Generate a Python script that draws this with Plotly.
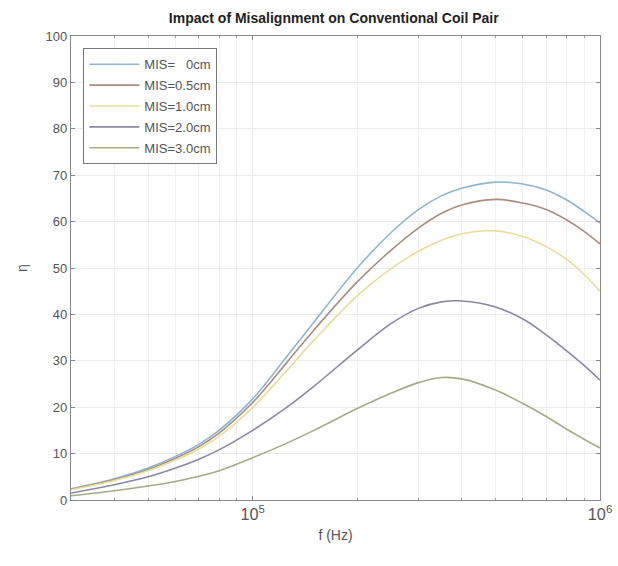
import plotly.graph_objects as go

freq = [3e4, 4e4, 5e4, 6e4, 7e4, 8e4, 1e5, 1.25e5, 1.5e5, 2e5, 2.5e5, 3e5, 3.5e5,
        4e5, 5e5, 6e5, 7e5, 8e5, 9e5, 1e6]
eta_0 = [2.4, 4.6, 6.9, 9.4, 12.0, 15.0, 21.8, 30.8, 38.3, 50.0, 57.6, 62.6, 65.6,
         67.2, 68.5, 68.1, 66.8, 64.7, 62.2, 59.7]
eta_05 = [2.3, 4.4, 6.6, 9.0, 11.5, 14.4, 21.0, 29.5, 36.6, 47.0, 53.8, 58.6, 61.8,
          63.6, 64.8, 64.0, 62.6, 60.4, 57.9, 55.2]
eta_10 = [2.2, 4.2, 6.3, 8.6, 11.0, 13.7, 19.9, 27.8, 34.4, 44.0, 49.8, 53.6, 56.0,
          57.4, 58.0, 56.8, 54.6, 51.9, 48.6, 45.0]
eta_20 = [1.5, 3.3, 5.0, 6.9, 8.8, 10.8, 15.0, 19.9, 24.5, 32.3, 38.0, 41.3, 42.7,
          42.9, 41.6, 39.0, 35.6, 32.2, 29.0, 25.8]
eta_30 = [0.9, 2.0, 3.0, 4.0, 5.1, 6.3, 9.1, 12.2, 15.0, 19.7, 23.0, 25.3, 26.4,
          26.1, 23.7, 20.8, 18.0, 15.3, 13.1, 11.2]

names = ["MIS=   0cm", "MIS=0.5cm", "MIS=1.0cm", "MIS=2.0cm", "MIS=3.0cm"]
series = [eta_0, eta_05, eta_10, eta_20, eta_30]
colors = ["#8fb6cc", "#a88e80", "#e6df9c", "#8a88a2", "#a4ac86"]

fig = go.Figure()
for i, (n, s, c) in enumerate(zip(names, series, colors)):
    fig.add_trace(go.Scatter(x=freq, y=s, name=n, mode="lines", legendgroup=f"g{i}",
                             line=dict(color=c, width=1.6, shape="spline", smoothing=1.0)))

axis_common = dict(showline=True, linecolor="#8a8a8a", linewidth=1.2, mirror="ticks",
                   ticks="inside", ticklen=4, tickcolor="#8a8a8a", automargin=False,
                   gridcolor="#ececec", gridwidth=1, zeroline=False,
                   tickfont=dict(family="Liberation Sans, Arial", size=13, color="#555555"))

fig.update_layout(
    width=618, height=566,
    margin=dict(l=71, r=18, t=36, b=66),
    paper_bgcolor="white", plot_bgcolor="white",
    title=dict(text="<b>Impact of Misalignment on Conventional Coil Pair</b>",
               x=0.54, xanchor="center", y=0.968, yanchor="middle",
               font=dict(family="Liberation Sans, Arial", size=14, color="#222222")),
    xaxis=dict(type="log", range=[4.477, 6], dtick=1, exponentformat="power",
               showexponent="all",
               title=dict(text="f (Hz)", standoff=8,
                          font=dict(family="Liberation Sans, Arial", size=14, color="#555555")),
               minor=dict(dtick="D1", showgrid=True, gridcolor="#f2f2f2", ticks="inside",
                          ticklen=2, tickcolor="#9a9a9a"),
               **axis_common),
    yaxis=dict(range=[0, 100], dtick=10,
               title=dict(text="η", standoff=14,
                          font=dict(family="Liberation Sans, Arial", size=14, color="#555555")),
               **axis_common),
    legend=dict(x=0.023, y=0.974, xanchor="left", yanchor="top",
                bordercolor="#777777", borderwidth=1.2, bgcolor="white",
                font=dict(family="Liberation Sans, Arial", size=13, color="#555555"),
                traceorder="grouped", tracegroupgap=1, itemwidth=50),
    showlegend=True,
)

fig.write_html("out.html")
